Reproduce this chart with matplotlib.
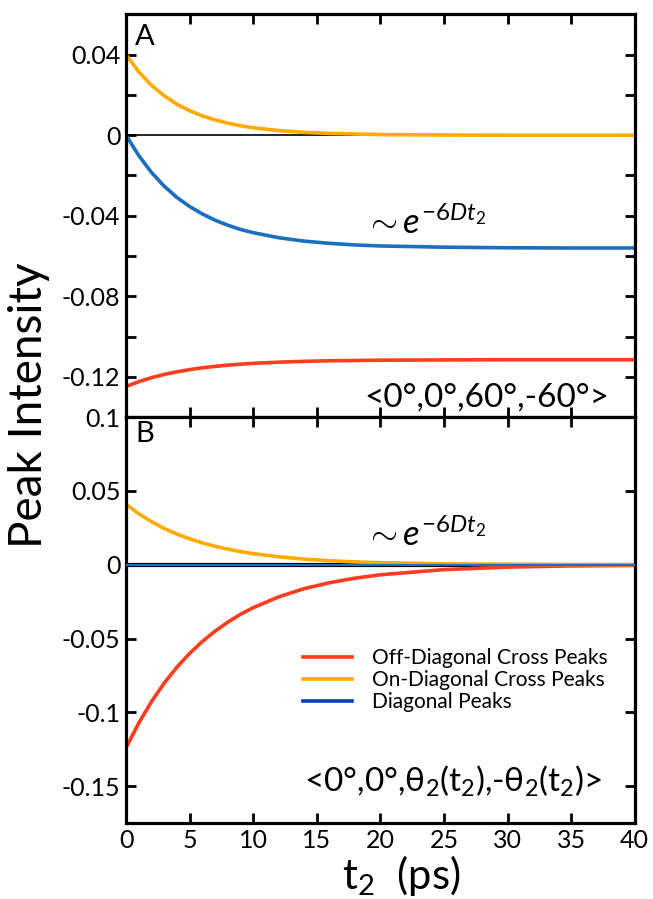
import matplotlib
matplotlib.use('Agg')
import matplotlib.pyplot as plt

plt.rcParams['font.family'] = ['Lato', 'DejaVu Sans']
plt.rcParams['mathtext.fontset'] = 'custom'
plt.rcParams['mathtext.rm'] = 'Lato'
plt.rcParams['mathtext.it'] = 'Lato:italic'

# t2 (ps) sample points
t2 = [0, 1, 2, 3, 4, 5, 6, 7, 8, 9, 10, 12, 14, 16, 18, 20, 25, 30, 35, 40]

# panel A  <0,0,60,-60>
a_on = [0.040, 0.0315, 0.0248, 0.0196, 0.0154, 0.0122, 0.0096, 0.0076, 0.0060, 0.0047,
        0.0037, 0.0023, 0.0014, 0.0009, 0.0006, 0.0003, 0.0001, 0.0, 0.0, 0.0]
a_diag = [0.0, -0.0101, -0.0185, -0.0253, -0.0309, -0.0354, -0.0391, -0.0422, -0.0447, -0.0468,
          -0.0484, -0.0509, -0.0526, -0.0537, -0.0545, -0.0550, -0.0556, -0.0559, -0.0560, -0.0560]
a_off = [-0.1248, -0.1224, -0.1204, -0.1188, -0.1175, -0.1164, -0.1155, -0.1148, -0.1142, -0.1137,
         -0.1133, -0.1127, -0.1123, -0.1120, -0.1119, -0.1117, -0.1116, -0.1115, -0.1115, -0.1115]

# panel B  <0,0,theta2(t2),-theta2(t2)>
b_on = [0.0410, 0.0346, 0.0292, 0.0246, 0.0208, 0.0176, 0.0148, 0.0125, 0.0106, 0.0089,
        0.0075, 0.0054, 0.0038, 0.0027, 0.0019, 0.0014, 0.0006, 0.0003, 0.0001, 0.0]
b_diag = [0.0] * len(t2)
b_off = [-0.1240, -0.1073, -0.0928, -0.0802, -0.0694, -0.0601, -0.0520, -0.0450, -0.0389, -0.0336,
         -0.0291, -0.0218, -0.0162, -0.0122, -0.0091, -0.0068, -0.0033, -0.0016, -0.0008, -0.0004]

red = '#ff3c1e'
orange = '#ffaa00'
blue = '#1a6fc0'

fig = plt.figure(figsize=(6.53, 8.99), dpi=100)
axA = fig.add_axes([0.193, 0.536, 0.779, 0.448])
axB = fig.add_axes([0.193, 0.0845, 0.779, 0.4515])

for ax in (axA, axB):
    for s in ax.spines.values():
        s.set_linewidth(2.3)
    ax.tick_params(direction='in', length=7, width=2, labelsize=18,
                   top=True, right=True, pad=4)
    ax.set_xlim(0, 40)
    ax.set_xticks(range(0, 41, 5))

# ---- panel A ----
axA.axhline(0, color='black', lw=1.2, zorder=1)
axA.plot(t2, a_on, color=orange, lw=2.6)
axA.plot(t2, a_diag, color=blue, lw=2.6)
axA.plot(t2, a_off, color=red, lw=2.6)
axA.set_ylim(-0.14, 0.06)
axA.set_yticks([-0.14, -0.12, -0.10, -0.08, -0.06, -0.04, -0.02, 0, 0.02, 0.04, 0.06])
axA.set_yticklabels(['', '-0.12', '', '-0.08', '', '-0.04', '', '0', '', '0.04', ''])
axA.set_xticklabels([])
axA.text(0.7, 0.055, 'A', fontsize=21, va='top')
axA.text(18.8, -0.0435, r'$\sim e^{-6Dt_2}$', fontsize=25, va='center')
axA.text(38.0, -0.1305, '<0°,0°,60°,-60°>', fontsize=24, ha='right', va='center')

# ---- panel B ----
axB.plot(t2, b_diag, color='black', lw=3.0, zorder=1)
l1, = axB.plot(t2, b_off, color=red, lw=2.6)
l2, = axB.plot(t2, b_on, color=orange, lw=2.6)
axB.plot(t2, b_diag, color=blue, lw=1.6, zorder=3)
l3, = axB.plot([], [], color='#0a3fae', lw=2.6)
axB.set_ylim(-0.175, 0.1)
axB.set_yticks([-0.15, -0.1, -0.05, 0, 0.05, 0.1])
axB.set_yticklabels(['-0.15', '-0.1', '-0.05', '0', '0.05', '0.1'])
axB.text(0.7, 0.0975, 'B', fontsize=21, va='top')
axB.text(18.8, 0.0205, r'$\sim e^{-6Dt_2}$', fontsize=25, va='center')
axB.text(37.4, -0.1465, r'<0°,0°,$\mathrm{\theta_2(t_2)}$,-$\mathrm{\theta_2(t_2)}$>',
         fontsize=24, ha='right', va='center')
axB.legend([l1, l2, l3], ['Off-Diagonal Cross Peaks', 'On-Diagonal Cross Peaks', 'Diagonal Peaks'],
           loc='center left', bbox_to_anchor=(0.327, 0.352), frameon=False, fontsize=15,
           handlelength=2.35, handletextpad=0.95, labelspacing=0.08, borderpad=0)

fig.text(0.045, 0.549, 'Peak Intensity', rotation=90, fontsize=33, ha='center', va='center')
fig.text(0.614, 0.011, r't$_2$  (ps)', fontsize=30, ha='center', va='baseline')

fig.savefig('out.png', dpi=100)
